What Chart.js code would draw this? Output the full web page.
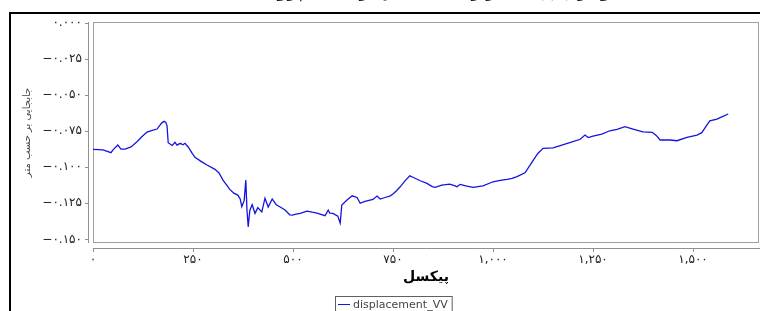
<!DOCTYPE html>
<html>
<head>
<meta charset="utf-8">
<script src="https://cdn.jsdelivr.net/npm/chart.js@4.4.0/dist/chart.umd.min.js"></script>
<style>
  html, body { margin: 0; padding: 0; background: #fff; overflow: hidden; }
  #wrap { position: relative; width: 760px; height: 311px; }
  canvas { position: absolute; left: 0; top: 0; }
  #title {
    position: absolute; left: 217px; width: 440px; top: -16px;
    text-align: center; font: bold 16px "DejaVu Sans"; line-height: 16px;
    direction: rtl; white-space: nowrap; color: #000;
  }
</style>
</head>
<body>
<div id="wrap">
  <canvas id="chart" width="760" height="311"></canvas>
  <div id="title">نمودار جابجایی در راستای قائم در امتداد پروفیل</div>
</div>
<script>
// pixel index along the profile
const pixels = [
  0, 25, 45, 50, 62, 70, 80, 95, 110, 122, 135, 148, 160, 172, 178, 182, 185, 188,
  198, 205, 210, 218, 225, 230, 238, 248, 255, 270, 285, 305, 315, 325, 342, 352,
  362, 368, 372, 378, 382, 385, 388, 392, 398, 405, 412, 422, 430, 438, 448, 458,
  468, 480, 492, 498, 508, 518, 535, 548, 560, 580, 588, 592, 600, 612, 618, 622,
  635, 648, 660, 668, 678, 685, 700, 710, 718, 730, 742, 750, 760, 768, 780, 792,
  800, 818, 835, 848, 855, 872, 892, 905, 910, 918, 932, 950, 975, 1000, 1018, 1035,
  1048, 1060, 1080, 1098, 1112, 1125, 1150, 1172, 1192, 1218, 1230, 1238, 1250, 1272,
  1292, 1310, 1330, 1350, 1375, 1398, 1408, 1418, 1442, 1460, 1485, 1510, 1522, 1532,
  1542, 1560, 1572, 1588
];

// displacement (m)
const displacementVV = [
  -0.0877, -0.0880, -0.0900, -0.0880, -0.0847, -0.0875, -0.0875, -0.0860, -0.0824, -0.0790,
  -0.0757, -0.0745, -0.0736, -0.0693, -0.0683, -0.0690, -0.0712, -0.0831, -0.0850, -0.0828,
  -0.0847, -0.0835, -0.0845, -0.0835, -0.0860, -0.0904, -0.0932, -0.0960, -0.0985, -0.1015,
  -0.1040, -0.1090, -0.1154, -0.1180, -0.1193, -0.1220, -0.1274, -0.1230, -0.1090, -0.1300,
  -0.1413, -0.1300, -0.1260, -0.1320, -0.1280, -0.1310, -0.1215, -0.1276, -0.1220, -0.1260,
  -0.1276, -0.1297, -0.1330, -0.1332, -0.1325, -0.1320, -0.1304, -0.1312, -0.1318, -0.1336,
  -0.1297, -0.1318, -0.1320, -0.1339, -0.1387, -0.1262, -0.1228, -0.1198, -0.1210, -0.1250,
  -0.1238, -0.1233, -0.1223, -0.1200, -0.1221, -0.1210, -0.1200, -0.1186, -0.1160, -0.1136,
  -0.1095, -0.1060, -0.1070, -0.1094, -0.1112, -0.1135, -0.1140, -0.1124, -0.1117, -0.1130,
  -0.1136, -0.1119, -0.1130, -0.1140, -0.1129, -0.1101, -0.1092, -0.1085, -0.1078, -0.1066,
  -0.1039, -0.0963, -0.0905, -0.0870, -0.0866, -0.0847, -0.0830, -0.0807, -0.0778, -0.0795,
  -0.0785, -0.0771, -0.0748, -0.0738, -0.0720, -0.0736, -0.0755, -0.0759, -0.0780, -0.0812,
  -0.0812, -0.0817, -0.0794, -0.0778, -0.0761, -0.0720, -0.0679, -0.0667, -0.0652, -0.0632
];

const xTickValues = [0, 250, 500, 750, 1000, 1250, 1500];
const xTickLabels = ["۰", "۲۵۰", "۵۰۰", "۷۵۰", "۱,۰۰۰", "۱,۲۵۰", "۱,۵۰۰"];
const yTickValues = [0, -0.025, -0.05, -0.075, -0.1, -0.125, -0.15];
const yTickLabels = ["۰.۰۰۰", "−۰.۰۲۵", "−۰.۰۵۰", "−۰.۰۷۵", "−۰.۱۰۰", "−۰.۱۲۵", "−۰.۱۵۰"];

const seriesLabel = "displacement_VV";
const xTitle = "پیکسل";
const yTitle = "جابجایی بر حسب متر";

// ----------------------
// frame, axis lines, legend
// ----------------------
const decorPlugin = {
  id: "decor",
  beforeDraw(chart) {
    const ctx = chart.ctx;
    ctx.save();
    ctx.fillStyle = "#fff";
    ctx.fillRect(0, 0, chart.width, chart.height);
    ctx.fillStyle = "#000";
    ctx.fillRect(9, 12, 2, chart.height - 12);
    ctx.fillRect(9, 12, chart.width - 9, 2);
    ctx.restore();
  },
  beforeDatasetsDraw(chart) {
    const ctx = chart.ctx;
    const a = chart.chartArea;
    const xs = chart.scales.x, ys = chart.scales.y;
    ctx.save();
    ctx.strokeStyle = "#a0a0a0";
    ctx.lineWidth = 1;
    ctx.strokeRect(a.left + 0.5, a.top + 0.5, a.right - a.left - 1, a.bottom - a.top - 1);

    // y axis line + ticks
    ctx.strokeStyle = "#909090";
    ctx.beginPath();
    ctx.moveTo(88.5, a.top);
    ctx.lineTo(88.5, a.bottom);
    yTickValues.forEach(v => {
      const py = Math.round(ys.getPixelForValue(v)) + 0.5;
      ctx.moveTo(85, py);
      ctx.lineTo(88.5, py);
    });
    // x axis line + ticks
    ctx.moveTo(a.left, 248.5);
    ctx.lineTo(chart.width, 248.5);
    xTickValues.forEach(v => {
      const px = Math.round(xs.getPixelForValue(v)) + 0.5;
      ctx.moveTo(px, 248.5);
      ctx.lineTo(px, 252);
    });
    ctx.stroke();
    ctx.restore();
  },
  afterDraw(chart) {
    const ctx = chart.ctx;
    ctx.save();
    ctx.font = "11px 'DejaVu Sans'";
    const tw = ctx.measureText(seriesLabel).width;
    const bx = 335, by = 296, bw = 18 + tw + 4, bh = 18;
    ctx.strokeStyle = "#606060";
    ctx.lineWidth = 1;
    ctx.strokeRect(bx + 0.5, by + 0.5, bw, bh);
    ctx.strokeStyle = chart.data.datasets[0].borderColor;
    ctx.beginPath();
    ctx.moveTo(bx + 3, by + 8.5);
    ctx.lineTo(bx + 15, by + 8.5);
    ctx.stroke();
    ctx.fillStyle = "#444";
    ctx.textBaseline = "middle";
    ctx.fillText(seriesLabel, bx + 18, by + 9);
    ctx.restore();
  }
};

new Chart(document.getElementById("chart"), {
  type: "line",
  data: {
    datasets: [{
      label: seriesLabel,
      data: pixels.map((p, i) => ({ x: p, y: displacementVV[i] })),
      borderColor: "#1414e0",
      borderWidth: 1.3,
      pointRadius: 0,
      tension: 0,
      fill: false
    }]
  },
  options: {
    responsive: false,
    animation: false,
    devicePixelRatio: 1,
    layout: { padding: { left: 0, right: 1, top: 22, bottom: 21 } },
    plugins: { legend: { display: false }, tooltip: { enabled: false } },
    scales: {
      x: {
        type: "linear",
        min: 0,
        max: 1665,
        afterBuildTicks: s => { s.ticks = xTickValues.map(v => ({ value: v })); },
        afterFit: s => { s.height = 47; },
        grid: { display: false, drawTicks: false },
        border: { display: false },
        ticks: {
          padding: 10,
          maxRotation: 0,
          autoSkip: false,
          color: "#222",
          font: { family: "DejaVu Sans", size: 12 },
          callback: (v, i) => xTickLabels[i]
        },
        title: {
          display: true,
          text: xTitle,
          color: "#000",
          font: { family: "DejaVu Sans", size: 14, weight: "bold" },
          padding: { top: 0, bottom: 4 }
        }
      },
      y: {
        min: -0.1525,
        max: 0.0005,
        afterBuildTicks: s => { s.ticks = yTickValues.map(v => ({ value: v })); },
        afterFit: s => { s.width = 93; },
        grid: { display: false, drawTicks: false },
        border: { display: false },
        ticks: {
          padding: 11,
          autoSkip: false,
          color: "#222",
          font: { family: "DejaVu Sans", size: 12 },
          callback: (v, i) => yTickLabels[i]
        },
        title: {
          display: true,
          text: yTitle,
          color: "#444",
          font: { family: "DejaVu Sans", size: 10 },
          padding: { top: 21, bottom: 0 }
        }
      }
    }
  },
  plugins: [decorPlugin]
});
</script>
</body>
</html>
